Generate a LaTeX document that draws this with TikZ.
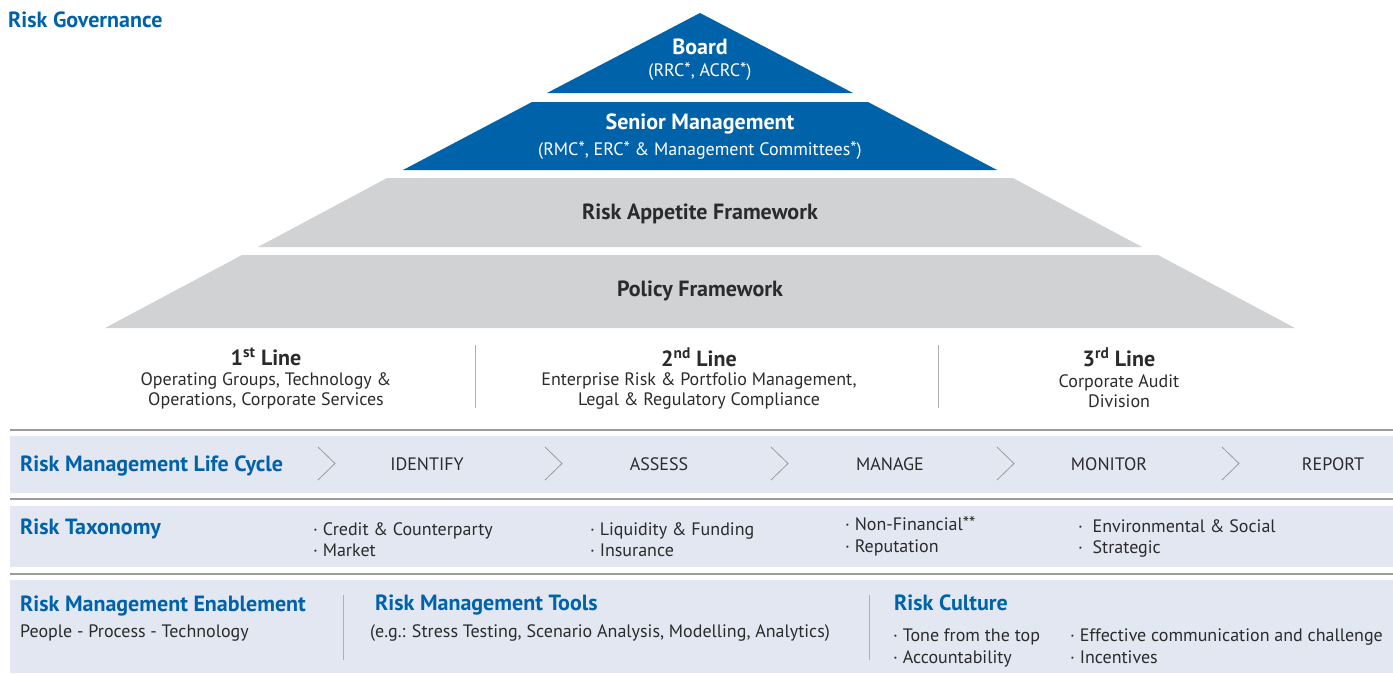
\documentclass[tikz,border=0pt]{standalone}
\usepackage{fontspec}
\setmainfont{PT Sans}
\usepackage{tikz}
\usetikzlibrary{positioning}

\definecolor{bmo blue}{HTML}{0062A9}
\definecolor{pyr gray}{HTML}{D1D2D4}
\definecolor{band}{HTML}{E3E7F1}
\definecolor{rule}{HTML}{9B9B9B}
\definecolor{ink}{HTML}{2B2B2B}
\newcommand{\supstar}{{\fontsize{18}{18}\selectfont\raisebox{1pt}{*}}}

\begin{document}
\begin{tikzpicture}[x=1pt,y=-1pt,
    heading/.style={font=\bfseries\fontsize{22}{24}\selectfont,text=bmo blue,inner sep=0pt,anchor=base west},
    tier/.style={font=\bfseries\fontsize{22}{24}\selectfont,inner sep=0pt,align=center},
    body/.style={font=\fontsize{18}{20}\selectfont,text=ink,inner sep=0pt,align=center},
    item/.style={font=\fontsize{18}{20}\selectfont,text=ink,inner sep=0pt,anchor=base west},
    stage/.style={font=\fontsize{18}{20}\selectfont,text=ink,inner sep=0pt,anchor=base},
    sep/.style={draw=rule!80,line width=1pt},
    band rule/.style={draw=rule,line width=2pt},
    chevron/.style={draw=rule,line width=0.8pt}]
    \useasboundingbox (0,0) rectangle (1393,673);
    % pyramid
    \fill[bmo blue] (700,13) -- (853,93) -- (547,93) -- cycle;
    \fill[bmo blue] (532,102) -- (868,102) -- (997,170) -- (403,170) -- cycle;
    \fill[pyr gray] (387,178) -- (1013,178) -- (1142,247) -- (258,247) -- cycle;
    \fill[pyr gray] (242,255) -- (1158,255) -- (1295,328) -- (105,328) -- cycle;
    \node[heading] (governance) at (8,27) {Risk Governance};
    \node[tier,white] (board) at (700,47) {Board};
    \node[body,white] (board sub) at (700,72) {(RRC\supstar, ACRC\supstar)};
    \node[tier,white] (senior) at (700,124) {Senior Management};
    \node[body,white] (senior sub) at (700,151) {(RMC\supstar, ERC\supstar{} \& Management Committees\supstar)};
    \node[tier,ink] (appetite) at (700,214) {Risk Appetite Framework};
    \node[tier,ink] (policy) at (700,291) {Policy Framework};
    % three lines of defence
    \node[tier,ink] (line 1) at (266,357) {1\textsuperscript{st} Line};
    \node[body] (line 1 text) at (266,391) {Operating Groups, Technology \&\\Operations, Corporate Services};
    \node[tier,ink] (line 2) at (699,357) {2\textsuperscript{nd} Line};
    \node[body] (line 2 text) at (699,391) {Enterprise Risk \& Portfolio Management,\\Legal \& Regulatory Compliance};
    \node[tier,ink] (line 3) at (1119,357) {3\textsuperscript{rd} Line};
    \node[body] (line 3 text) at (1119,391) {Corporate Audit\\Division};
    \draw[sep] (475,345) -- (475,408);
    \draw[sep] (938,345) -- (938,408);
    % bands
    \draw[band rule] (10,430) -- (1393,430);
    \fill[band] (10,436) rectangle (1393,493);
    \draw[band rule] (10,499) -- (1393,499);
    \fill[band] (10,506) rectangle (1393,567);
    \draw[band rule] (10,574) -- (1393,574);
    \fill[band] (10,580) rectangle (1393,673);
    % life cycle
    \node[heading] (life cycle) at (20,471) {Risk Management Life Cycle};
    \draw[chevron] (318,447) -- (335,463.5) -- (318,480);
    \node[stage] (identify) at (427,470) {IDENTIFY};
    \draw[chevron] (545,447) -- (562,463.5) -- (545,480);
    \node[stage] (assess) at (659,470) {ASSESS};
    \draw[chevron] (771,447) -- (788,463.5) -- (771,480);
    \node[stage] (manage) at (890,470) {MANAGE};
    \draw[chevron] (997,447) -- (1014,463.5) -- (997,480);
    \node[stage] (monitor) at (1109,470) {MONITOR};
    \draw[chevron] (1222,447) -- (1239,463.5) -- (1222,480);
    \node[stage] (report) at (1333,470) {REPORT};
    % taxonomy
    \node[heading] (taxonomy) at (20,534) {Risk Taxonomy};
    \node[item] (credit) at (313,535) {· Credit \& Counterparty};
    \node[item] (market) at (313,556) {· Market};
    \node[item] (liquidity) at (590,535) {· Liquidity \& Funding};
    \node[item] (insurance) at (590,556) {· Insurance};
    \node[item] (non financial) at (845,530) {· Non-Financial\supstar\supstar};
    \node[item] (reputation) at (845,552) {· Reputation};
    \node[item] (environmental) at (1078,532) {·\ \ Environmental \& Social};
    \node[item] (strategic) at (1078,553) {·\ \ Strategic};
    % enablement
    \node[heading] (enablement) at (20,611) {Risk Management Enablement};
    \node[item] (people) at (20,637) {People - Process - Technology};
    \draw[sep] (343,595) -- (343,660);
    \node[heading] (tools) at (375,610) {Risk Management Tools};
    \node[item] (tools text) at (370,637) {(e.g.: Stress Testing, Scenario Analysis, Modelling, Analytics)};
    \draw[sep] (869,595) -- (869,660);
    \node[heading] (culture) at (894,610) {Risk Culture};
    \node[item] (tone) at (893,641) {· Tone from the top};
    \node[item] (accountability) at (893,663) {· Accountability};
    \node[item] (communication) at (1070,641) {· Effective communication and challenge};
    \node[item] (incentives) at (1070,663) {· Incentives};
\end{tikzpicture}
\end{document}
